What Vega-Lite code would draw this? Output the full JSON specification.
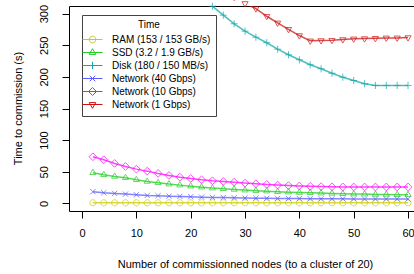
{
  "$schema": "https://vega.github.io/schema/vega-lite/v6.json",
  "autosize": {"type": "none"},
  "padding": {"left": 69, "top": 6, "right": 0, "bottom": 63},
  "width": 345,
  "height": 205,
  "background": "white",
  "config": {
    "font": "Liberation Sans",
    "view": {"stroke": "black", "strokeWidth": 1},
    "axis": {"grid": false, "domain": false, "tickColor": "black", "tickSize": 7, "labelColor": "black", "titleColor": "black", "labelFontSize": 11, "titleFontSize": 11, "titleFontWeight": "normal", "labelFlush": false, "labelOverlap": false},
    "point": {"filled": false, "strokeWidth": 1, "size": 38, "clip": true}
  },
  "data": {"values": [
    {"n": 2, "RAM": 1.0, "SSD": 48.5, "N40": 18.5, "N10": 73.7},
    {"n": 4, "RAM": 1.0, "SSD": 45.3, "N40": 16.9, "N10": 69.0},
    {"n": 6, "RAM": 1.0, "SSD": 42.6, "N40": 15.8, "N10": 63.2},
    {"n": 8, "RAM": 1.0, "SSD": 40.6, "N40": 14.7, "N10": 58.4},
    {"n": 10, "RAM": 1.0, "SSD": 37.4, "N40": 13.7, "N10": 54.2},
    {"n": 12, "RAM": 1.0, "SSD": 34.7, "N40": 12.6, "N10": 51.0},
    {"n": 14, "RAM": 1.0, "SSD": 32.6, "N40": 12.2, "N10": 47.4},
    {"n": 16, "RAM": 1.0, "SSD": 30.5, "N40": 11.5, "N10": 44.2},
    {"n": 18, "RAM": 1.0, "SSD": 28.9, "N40": 11.1, "N10": 41.5},
    {"n": 20, "RAM": 1.0, "SSD": 27.3, "N40": 10.6, "N10": 39.5},
    {"n": 22, "RAM": 1.0, "SSD": 25.7, "N40": 9.9, "N10": 37.4, "Disk": 328},
    {"n": 24, "RAM": 1.0, "SSD": 24.2, "N40": 9.5, "N10": 35.8, "Disk": 311.7},
    {"n": 26, "RAM": 1.0, "SSD": 23.2, "N40": 9.3, "N10": 34.7, "Disk": 297.5},
    {"n": 28, "RAM": 1.0, "SSD": 22.1, "N40": 9.0, "N10": 33.6, "Disk": 283.9, "N1": 326},
    {"n": 30, "RAM": 1.0, "SSD": 21.0, "N40": 8.6, "N10": 32.1, "Disk": 272.2, "N1": 316},
    {"n": 32, "RAM": 1.0, "SSD": 20.2, "N40": 8.3, "N10": 31.0, "Disk": 262.7, "N1": 307.9},
    {"n": 34, "RAM": 1.0, "SSD": 19.4, "N40": 8.1, "N10": 30.0, "Disk": 253.9, "N1": 295.8},
    {"n": 36, "RAM": 1.0, "SSD": 18.5, "N40": 7.9, "N10": 29.0, "Disk": 243.8, "N1": 285.3},
    {"n": 38, "RAM": 1.0, "SSD": 17.8, "N40": 7.8, "N10": 28.2, "Disk": 234.9, "N1": 275.2},
    {"n": 40, "RAM": 1.0, "SSD": 17.2, "N40": 7.6, "N10": 27.5, "Disk": 227.0, "N1": 265.3},
    {"n": 42, "RAM": 1.0, "SSD": 16.9, "N40": 7.5, "N10": 27.0, "Disk": 219.1, "N1": 256.9},
    {"n": 44, "RAM": 1.0, "SSD": 16.3, "N40": 7.4, "N10": 26.6, "Disk": 212.8, "N1": 257.4},
    {"n": 46, "RAM": 1.0, "SSD": 15.8, "N40": 7.3, "N10": 26.3, "Disk": 205.8, "N1": 257.9},
    {"n": 48, "RAM": 1.0, "SSD": 15.3, "N40": 7.2, "N10": 26.1, "Disk": 199.5, "N1": 259.0},
    {"n": 50, "RAM": 1.0, "SSD": 14.9, "N40": 7.1, "N10": 26.0, "Disk": 194.3, "N1": 260.1},
    {"n": 52, "RAM": 1.0, "SSD": 14.7, "N40": 7.0, "N10": 26.0, "Disk": 189.1, "N1": 260.5},
    {"n": 54, "RAM": 1.0, "SSD": 14.2, "N40": 7.0, "N10": 26.0, "Disk": 186.4, "N1": 261.0},
    {"n": 56, "RAM": 1.0, "SSD": 14.2, "N40": 6.9, "N10": 26.0, "Disk": 186.4, "N1": 261.6},
    {"n": 58, "RAM": 1.0, "SSD": 13.7, "N40": 6.9, "N10": 26.0, "Disk": 186.4, "N1": 261.6},
    {"n": 60, "RAM": 1.0, "SSD": 13.7, "N40": 6.8, "N10": 26.0, "Disk": 186.4, "N1": 262.1}
  ]},
  "transform": [
    {"fold": ["RAM", "SSD", "Disk", "N40", "N10", "N1"], "as": ["s", "t"]},
    {"filter": "isValid(datum.t)"}
  ],
  "encoding": {
    "x": {"field": "n", "type": "quantitative", "scale": {"domain": [-2.4, 61.1], "nice": false, "zero": false},
      "axis": {"values": [0, 10, 20, 30, 40, 50, 60], "title": "Number of commissionned nodes (to a cluster of 20)", "labelPadding": 9, "titleX": 176, "titleY": 53, "titleBaseline": "middle", "titleAnchor": null, "titleAlign": "center"}},
    "y": {"field": "t", "type": "quantitative", "scale": {"domain": [-12, 312], "nice": false, "zero": false},
      "axis": {"values": [0, 50, 100, 150, 200, 250, 300], "title": "Time to commission (s)", "labelAngle": -90, "labelAlign": "center", "labelBaseline": "bottom", "labelPadding": 13, "titleAngle": -90, "titleX": -51, "titleY": 102, "titleAlign": "center", "titleBaseline": "middle"}},
    "color": {"field": "s", "type": "nominal",
      "scale": {"domain": ["RAM", "SSD", "Disk", "N40", "N10", "N1"], "range": ["#cccc00", "#22cc22", "#10a8a8", "#5a5aff", "#ff00ff", "#cc1111"]},
      "legend": {"title": "Time", "orient": "none", "legendX": 13, "legendY": 9, "direction": "vertical",
        "strokeColor": "#444444", "fillColor": "white", "padding": 5, "titleFontSize": 10, "titleFontWeight": "normal", "titleAnchor": "middle", "titlePadding": 4, "titleColor": "black",
        "labelFontSize": 10, "labelColor": "black", "labelOffset": 14, "rowPadding": 1, "symbolSize": 100, "symbolStrokeWidth": 1.2, "symbolOpacity": 1,
        "labelExpr": "{'RAM':'RAM (153 / 153 GB/s)','SSD':'SSD (3.2 / 1.9 GB/s)','Disk':'Disk (180 / 150 MB/s)','N40':'Network (40 Gbps)','N10':'Network (10 Gbps)','N1':'Network (1 Gbps)'}[datum.value]"}
    }
  },
  "layer": [
    {"mark": {"type": "line", "strokeWidth": 1.5, "opacity": 0.75, "clip": true}},
    {"transform": [{"filter": "datum.s == 'RAM'"}], "mark": {"type": "point", "shape": "M-1,0A1,1 0 1,0 1,0A1,1 0 1,0 -1,0Z"}},
    {"transform": [{"filter": "datum.s == 'SSD'"}], "mark": {"type": "point", "shape": "M0,-1.15L1,0.58L-1,0.58Z"}},
    {"transform": [{"filter": "datum.s == 'Disk'"}], "mark": {"type": "point", "shape": "M-1.15,0H1.15M0,-1.15V1.15"}},
    {"transform": [{"filter": "datum.s == 'N40'"}], "mark": {"type": "point", "shape": "M-0.85,-0.85L0.85,0.85M-0.85,0.85L0.85,-0.85"}},
    {"transform": [{"filter": "datum.s == 'N10'"}], "mark": {"type": "point", "shape": "M0,-1.25L1.25,0L0,1.25L-1.25,0Z"}},
    {"transform": [{"filter": "datum.s == 'N1'"}], "mark": {"type": "point", "shape": "M0,1.15L1,-0.58L-1,-0.58Z"}},
    {"transform": [{"filter": "false"}], "mark": {"type": "point", "filled": false, "opacity": 1},
      "encoding": {"shape": {"field": "s", "type": "nominal",
        "scale": {"domain": ["RAM", "SSD", "Disk", "N40", "N10", "N1"], "range": [
          "M-2,0H2M-0.66,0A0.66,0.66 0 1,0 0.66,0A0.66,0.66 0 1,0 -0.66,0Z",
          "M-2,0H2M0,-0.76L0.66,0.38L-0.66,0.38Z",
          "M-2,0H2M0,-0.75V0.75",
          "M-2,0H2M-0.55,-0.55L0.55,0.55M-0.55,0.55L0.55,-0.55",
          "M-2,0H2M0,-0.8L0.8,0L0,0.8L-0.8,0Z",
          "M-2,0H2M0,0.76L0.66,-0.38L-0.66,-0.38Z"]},
        "legend": {"title": "Time", "orient": "none", "legendX": 13, "legendY": 9, "direction": "vertical",
        "strokeColor": "#444444", "fillColor": "white", "padding": 5, "titleFontSize": 10, "titleFontWeight": "normal", "titleAnchor": "middle", "titlePadding": 4, "titleColor": "black",
        "labelFontSize": 10, "labelColor": "black", "labelOffset": 14, "rowPadding": 1, "symbolSize": 100, "symbolStrokeWidth": 1.2, "symbolOpacity": 1,
        "labelExpr": "{'RAM':'RAM (153 / 153 GB/s)','SSD':'SSD (3.2 / 1.9 GB/s)','Disk':'Disk (180 / 150 MB/s)','N40':'Network (40 Gbps)','N10':'Network (10 Gbps)','N1':'Network (1 Gbps)'}[datum.value]"}}}}
  ]
}
